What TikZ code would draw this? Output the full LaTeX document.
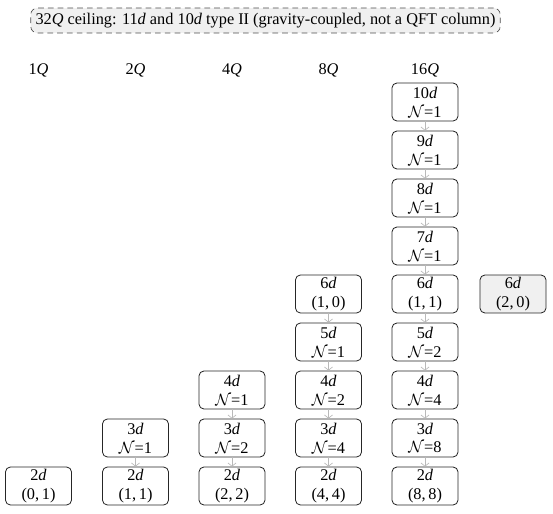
\documentclass[tikz,border=0pt]{standalone}
\usepackage{fontspec}
\setmainfont{Liberation Serif}
\usetikzlibrary{arrows.meta}
\newcommand{\dd}{\textit{d}}
\newcommand{\QQ}{\textit{Q}}
\newcommand{\NN}{\ensuremath{\mathcal{N}}}
\begin{document}
\begin{tikzpicture}[x=0.6135pt,y=-0.6135pt,
  box/.style={draw=black!85, rounded corners=3pt, line width=0.5pt, minimum width=40.5pt, minimum height=23.3pt, inner sep=1pt, align=center, font=\fontsize{10}{11.5}\selectfont},
  hibox/.style={box, fill=gray!12},
  lab/.style={font=\fontsize{10}{12}\selectfont},
  banner/.style={draw=black!70, dash pattern=on 3.5pt off 2.5pt, fill=gray!12, rounded corners=4pt, minimum width=288pt, minimum height=15.3pt, inner sep=2pt, font=\fontsize{10}{12}\selectfont},
  link/.style={draw=gray!55, line width=0.4pt, -{Straight Barb[length=2pt,width=5pt]}}]
\useasboundingbox (0,0) rectangle (553,514);

\node[banner] (ban) at (265.5,20.5) {32\QQ{} ceiling: 11\dd{} and 10\dd{} type II (gravity-coupled, not a QFT column)};

\node[lab] (h1) at (38.5,70) {1\QQ};
\node[lab] (h2) at (135.5,70) {2\QQ};
\node[lab] (h3) at (232,70) {4\QQ};
\node[lab] (h4) at (328.5,70) {8\QQ};
\node[lab] (h5) at (425,70) {16\QQ};

% column 1
\node[box] (a2) at (38.5,486) {2\dd\\(0,\,1)};
% column 2
\node[box] (b3) at (135.5,438) {3\dd\\\NN=1};
\node[box] (b2) at (135.5,486) {2\dd\\(1,\,1)};
% column 3
\node[box] (c4) at (232,390) {4\dd\\\NN=1};
\node[box] (c3) at (232,438) {3\dd\\\NN=2};
\node[box] (c2) at (232,486) {2\dd\\(2,\,2)};
% column 4
\node[box] (d6) at (328.5,294) {6\dd\\(1,\,0)};
\node[box] (d5) at (328.5,342) {5\dd\\\NN=1};
\node[box] (d4) at (328.5,390) {4\dd\\\NN=2};
\node[box] (d3) at (328.5,438) {3\dd\\\NN=4};
\node[box] (d2) at (328.5,486) {2\dd\\(4,\,4)};
% column 5
\node[box] (e10) at (425,102) {10\dd\\\NN=1};
\node[box] (e9) at (425,150) {9\dd\\\NN=1};
\node[box] (e8) at (425,198) {8\dd\\\NN=1};
\node[box] (e7) at (425,246) {7\dd\\\NN=1};
\node[box] (e6) at (425,294) {6\dd\\(1,\,1)};
\node[box] (e5) at (425,342) {5\dd\\\NN=2};
\node[box] (e4) at (425,390) {4\dd\\\NN=4};
\node[box] (e3) at (425,438) {3\dd\\\NN=8};
\node[box] (e2) at (425,486) {2\dd\\(8,\,8)};
% extra
\node[hibox] (x6) at (513,294) {6\dd\\(2,\,0)};

\draw[link] (b3) -- (b2);
\draw[link] (c4) -- (c3);
\draw[link] (c3) -- (c2);
\draw[link] (d6) -- (d5);
\draw[link] (d5) -- (d4);
\draw[link] (d4) -- (d3);
\draw[link] (d3) -- (d2);
\draw[link] (e10) -- (e9);
\draw[link] (e9) -- (e8);
\draw[link] (e8) -- (e7);
\draw[link] (e7) -- (e6);
\draw[link] (e6) -- (e5);
\draw[link] (e5) -- (e4);
\draw[link] (e4) -- (e3);
\draw[link] (e3) -- (e2);
\end{tikzpicture}
\end{document}
